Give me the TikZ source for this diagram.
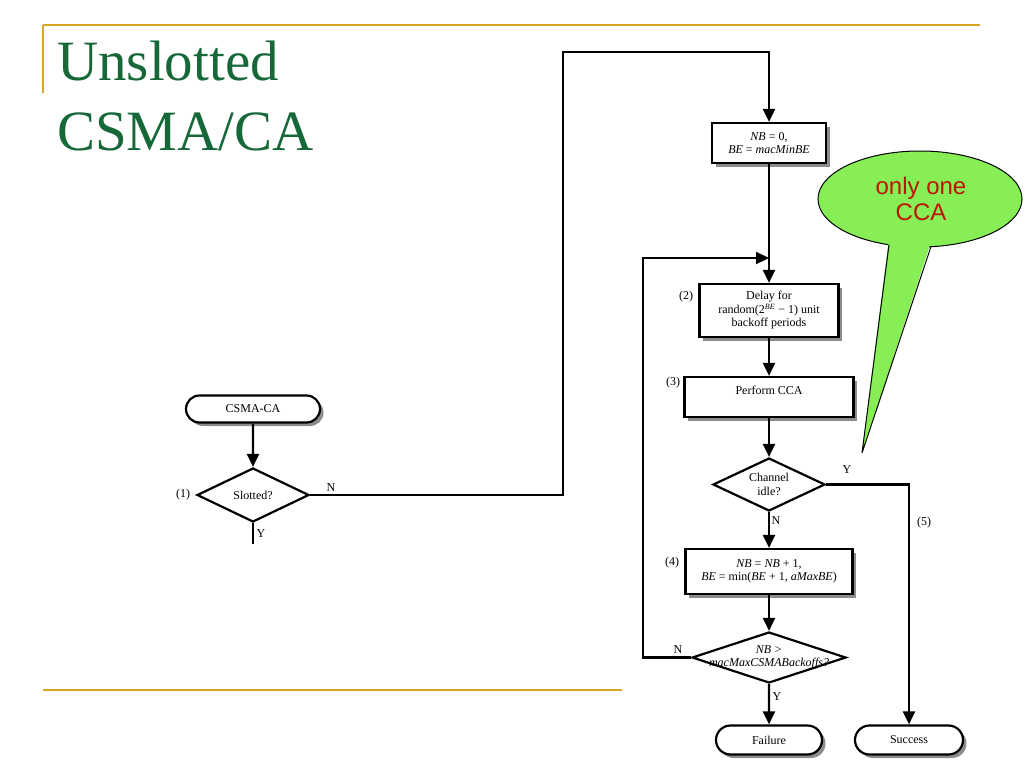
\documentclass[tikz,border=0pt]{standalone}
\usepackage{fontspec}
\setmainfont{Liberation Serif}
\newfontfamily\calloutfont{Liberation Sans}
\usetikzlibrary{arrows.meta,shapes.geometric,shapes.misc,shadows}
\definecolor{goldline}{RGB}{214,166,36}
\definecolor{titlegreen}{RGB}{22,104,56}
\definecolor{callgreen}{RGB}{135,238,85}
\definecolor{callred}{RGB}{190,20,0}
\begin{document}
\begin{tikzpicture}[x=1pt,y=-1pt,
  every node/.style={font=\fontsize{12}{13.5}\selectfont},
  flow/.style={line width=2.2pt,-{Triangle[length=13pt,width=12pt]}},
  plain/.style={line width=2.2pt},
  shadowed/.style={drop shadow={shadow xshift=3.5pt,shadow yshift=-3.5pt,fill=black!45,opacity=1}},
  procbox/.style={draw,line width=2.2pt,fill=white,rectangle,inner sep=2pt,align=center,shadowed},
  term/.style={draw,line width=2.2pt,fill=white,rounded rectangle,shadowed,minimum height=29pt,inner sep=2pt},
  decision/.style={draw,line width=2.2pt,fill=white,diamond,inner sep=0pt},
  tag/.style={inner sep=0pt},
  titletext/.style={anchor=base west,inner sep=0pt,font=\fontsize{57}{70}\selectfont,text=titlegreen}
]
\useasboundingbox (0,0) rectangle (1024,768);

% slide decoration
\draw[goldline,line width=2.4pt] (43,25) -- (980,25);
\draw[goldline,line width=1.8pt] (43,25) -- (43,93);
\draw[goldline,line width=2.4pt] (43,690) -- (622,690);
\node[titletext] (title1) at (57,80) {Unslotted};
\node[titletext] (title2) at (57,150) {CSMA/CA};

% flowchart nodes
\node[term,minimum width=138pt,minimum height=27pt] (start) at (253,409) {CSMA-CA};
\node[decision,minimum width=112pt,minimum height=54pt,label={center:Slotted?}] (slot) at (253,495) {};
\node[procbox,minimum width=114pt,minimum height=40pt] (init) at (769,143) {\textit{NB} = 0,\\\textit{BE} = \textit{macMinBE}};
\node[procbox,minimum width=139pt,minimum height=53pt] (delay) at (769,310.5) {Delay for\\random(2\textsuperscript{\textit{BE}} − 1) unit\\backoff periods};
\node[procbox,minimum width=169pt,minimum height=40pt,text height=9pt,text depth=15pt] (cca) at (769,397) {Perform CCA};
\node[decision,minimum width=112pt,minimum height=53pt,label={[align=center]center:Channel\\idle?}] (idle) at (769,484.5) {};
\node[procbox,minimum width=167pt,minimum height=45pt] (update) at (769,571.5) {\textit{NB} = \textit{NB} + 1,\\\textit{BE} = min(\textit{BE} + 1, \textit{aMaxBE})};
\node[decision,minimum width=154pt,minimum height=51pt,label={[align=center,font=\fontsize{12}{13}\selectfont\itshape]center:NB >\\macMaxCSMABackoffs?}] (limit) at (769,657.5) {};
\node[term,minimum width=110pt] (fail) at (769,740) {Failure};
\node[term,minimum width=112pt] (succ) at (909,740) {Success};

% step numbers and branch labels
\node[tag] (n1) at (183,495) {(1)};
\node[tag] (n2) at (686,297) {(2)};
\node[tag] (n3) at (673,383) {(3)};
\node[tag] (n4) at (672,563) {(4)};
\node[tag] (n5) at (924,523) {(5)};
\node[tag] (slotN) at (331,488) {N};
\node[tag] (slotYl) at (261,534) {Y};
\node[tag] (idleY) at (847,470) {Y};
\node[tag] (idleN) at (776,521) {N};
\node[tag] (limN) at (678,650) {N};
\node[tag] (limY) at (777,697) {Y};

% helper coordinates
\coordinate (slotY) at (253,544);
\coordinate (upL) at (563,52);
\coordinate (loopL) at (643,258);
\coordinate (merge) at (769,258);

% connectors
\draw[flow] (start) -- (slot);
\draw[plain] (slot.south) -- (slotY);
\draw[flow] (slot.east) -| (upL) -| (init.north);
\draw[flow] (init) -- (delay);
\draw[flow] (limit.west) -| (loopL) -- (merge);
\draw[flow] (delay) -- (cca);
\draw[flow] (cca) -- (idle);
\draw[flow] (idle) -- (update);
\draw[flow] (idle.east) -| (succ.north);
\draw[flow] (update) -- (limit);
\draw[flow] (limit) -- (fail);

% callout
\fill[callgreen] (889,239) -- (931,242) -- (862,453) -- cycle;
\draw[line width=1pt,fill=callgreen] (920,199) ellipse [x radius=102, y radius=48];
\fill[callgreen] (889,238) -- (931,241) -- (862,453) -- cycle;
\draw[line width=1pt,line join=miter] (889,244.6) -- (862,453) -- (931,246.6);
\node[font=\calloutfont\fontsize{24}{26}\selectfont,text=callred,align=center] (calltext) at (921,199) {only one\\CCA};
\end{tikzpicture}
\end{document}
